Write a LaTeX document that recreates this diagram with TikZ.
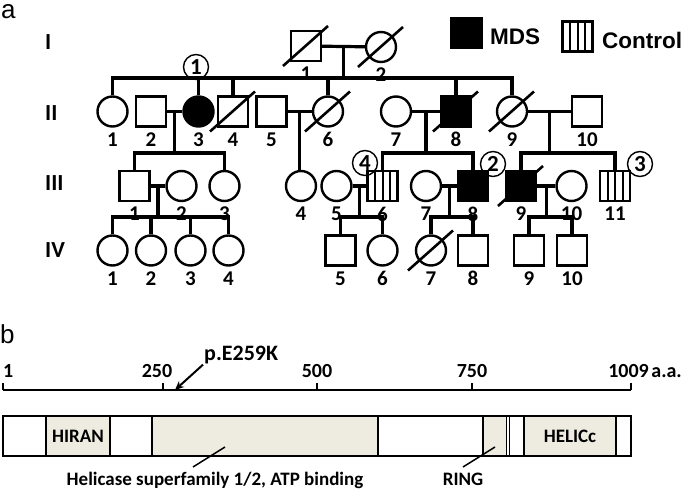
\documentclass[tikz,border=0pt]{standalone}
\usepackage{fontspec}
\usepackage{tikz}
\newfontfamily\calibri{Carlito}
\newfontfamily\arial{Liberation Sans}
\definecolor{domainbeige}{RGB}{238,236,225}
\usetikzlibrary{calc,arrows.meta}

\begin{document}
\begin{tikzpicture}[
    x=1pt, y=-1pt,
    male/.style={rectangle, draw=black, line width=2.4pt, fill=white, minimum size=30pt, inner sep=0pt},
    female/.style={circle, draw=black, line width=2.4pt, fill=white, minimum size=30pt, inner sep=0pt},
    affected/.style={fill=black},
    control/.style={male, path picture={
        \foreach \k in {-1,0,1}
            \draw[line width=2pt] ([xshift=\k*7.5pt]path picture bounding box.north) -- ([xshift=\k*7.5pt]path picture bounding box.south);}},
    every label/.style={font=\calibri\bfseries\fontsize{21}{22}\selectfont, inner sep=2pt},
    label distance=2.5pt,
    link/.style={line width=3.2pt},
    deceased/.style={line width=2.6pt},
    proband/.style={circle, draw=black, line width=1.4pt, minimum size=25pt, inner sep=0pt, font=\calibri\bfseries\fontsize{23}{24}\selectfont},
    gen/.style={anchor=west, inner sep=0pt, font=\calibri\bfseries\fontsize{23}{24}\selectfont},
    legendtext/.style={anchor=west, inner sep=0pt, font=\arial\bfseries\fontsize{22.5}{24}\selectfont},
    panel/.style={anchor=base west, inner sep=0pt, font=\arial\fontsize{26}{28}\selectfont},
    ticklabel/.style={inner sep=1pt, font=\calibri\bfseries\fontsize{20}{22}\selectfont},
    domainlabel/.style={inner sep=0pt, font=\calibri\bfseries\fontsize{19}{20}\selectfont},
    segment/.style={draw=black, line width=1.6pt},
    axis/.style={line width=1.5pt},
    arrow/.style={-{Stealth[length=9pt, width=8pt]}, line width=2pt}
]
\useasboundingbox (0,0) rectangle (685,489);

% Panel a
\node[panel] (pa) at (1,19) {a};

% Generation labels
\node[gen] (genI) at (45,42) {I};
\node[gen] (genII) at (45,113) {II};
\node[gen] (genIII) at (45,183) {III};
\node[gen] (genIV) at (45,250) {IV};

% Legend
\node[male, affected] (legmds) at (466.5,33) {};
\node[legendtext] (mdstext) at (490,37) {MDS};
\node[control] (legctrl) at (577.5,36.5) {};
\node[legendtext] (ctrltext) at (602,40) {Control};

% Sibship levels
\coordinate (sibII) at (0,78);
\coordinate (sibIII) at (0,153);
\coordinate (sibIV) at (0,217);

% Generation I
\node[male, label=below:1] (i1) at (306,46) {};
\node[female, label=below:2] (i2) at (381,47) {};

% Generation II
\node[female, label=below:1] (ii1) at (112.5,111.5) {};
\node[male, label=below:2] (ii2) at (151,111.5) {};
\node[female, affected, label=below:3] (ii3) at (198.5,111.5) {};
\node[male, label=below:4] (ii4) at (233,111.5) {};
\node[male, label=below:5] (ii5) at (271.5,111.5) {};
\node[female, label=below:6] (ii6) at (328,111.5) {};
\node[female, label=below:7] (ii7) at (396,111.5) {};
\node[male, affected, label=below:8] (ii8) at (456,111.5) {};
\node[female, label=below:9] (ii9) at (512,111.5) {};
\node[male, label=below:10] (ii10) at (587,111.5) {};

% Generation III
\node[male, label=below:1] (iii1) at (134.5,186) {};
\node[female, label=below:2] (iii2) at (181.5,186) {};
\node[female, label=below:3] (iii3) at (224.5,186) {};
\node[female, label=below:4] (iii4) at (301,186) {};
\node[female, label=below:5] (iii5) at (336.5,186) {};
\node[control, label=below:6] (iii6) at (382.5,186) {};
\node[female, label=below:7] (iii7) at (426,186) {};
\node[male, affected, label=below:8] (iii8) at (473,186) {};
\node[male, affected, label=below:9] (iii9) at (521,186) {};
\node[female, label=below:10] (iii10) at (571.5,186) {};
\node[control, label=below:11] (iii11) at (615,186) {};

% Generation IV
\node[female, label=below:1] (iv1) at (112.5,250.5) {};
\node[female, label=below:2] (iv2) at (151,250.5) {};
\node[female, label=below:3] (iv3) at (190.5,250.5) {};
\node[female, label=below:4] (iv4) at (228.5,250.5) {};
\node[male, label=below:5] (iv5) at (340.5,250.5) {};
\node[female, label=below:6] (iv6) at (382.5,250.5) {};
\node[female, label=below:7] (iv7) at (431,250.5) {};
\node[male, label=below:8] (iv8) at (473,250.5) {};
\node[male, label=below:9] (iv9) at (529,250.5) {};
\node[male, label=below:10] (iv10) at (572,250.5) {};

% Couples
\draw[link] (i1) -- (i2);
\draw[link] (ii2) -- (ii3);
\draw[link] (ii5) -- (ii6);
\draw[link] (ii7) -- (ii8);
\draw[link] (ii9) -- (ii10);
\draw[link] (iii1) -- (iii2);
\draw[link] (iii5) -- (iii6);
\draw[link] (iii7) -- (iii8);
\draw[link] (iii9) -- (iii10);

\coordinate (ci) at ($(i1)!0.5!(i2)$);
\coordinate (c23) at ($(ii2)!0.5!(ii3)$);
\coordinate (c56) at ($(ii5)!0.5!(ii6)$);
\coordinate (c78) at ($(ii7)!0.5!(ii8)$);
\coordinate (c910) at ($(ii9)!0.5!(ii10)$);
\coordinate (d12) at ($(iii1)!0.5!(iii2)$);
\coordinate (d56) at ($(iii5)!0.5!(iii6)$);
\coordinate (d78) at ($(iii7)!0.5!(iii8)$);
\coordinate (d910) at ($(iii9)!0.5!(iii10)$);

% Sibships, generation II
\draw[link] (ci) -- (ci |- sibII);
\draw[link] (ii1.north) |- (ii9.north |- sibII) -- (ii9.north);
\foreach \c in {ii3,ii4,ii6,ii8}
    \draw[link] (\c.north) -- (\c.north |- sibII);

% Sibships, generation III
\draw[link] (c23) -- (c23 |- sibIII);
\draw[link] (iii1.north) |- (iii3.north |- sibIII) -- (iii3.north);
\draw[link] (c56) -- (c56 |- iii4.north);
\draw[link] (c78) -- (c78 |- sibIII);
\draw[link] (iii6.north) |- (iii8.north |- sibIII) -- (iii8.north);
\draw[link] (c910) -- (c910 |- sibIII);
\draw[link] (iii9.north) |- (iii11.north |- sibIII) -- (iii11.north);

% Sibships, generation IV
\draw[link] (d12) -- (d12 |- sibIV);
\draw[link] (iv1.north) |- (iv4.north |- sibIV) -- (iv4.north);
\foreach \c in {iv2,iv3}
    \draw[link] (\c.north) -- (\c.north |- sibIV);
\draw[link] (d56) -- (d56 |- sibIV);
\draw[link] (iv5.north) |- (iv6.north |- sibIV) -- (iv6.north);
\draw[link] (d78) -- (d78 |- sibIV);
\draw[link] (iv7.north) |- (iv8.north |- sibIV) -- (iv8.north);
\draw[link] (d910) -- (d910 |- sibIV);
\draw[link] (iv9.north) |- (iv10.north |- sibIV) -- (iv10.north);

% Deceased
\foreach \n in {i1,i2,ii4,ii6,ii8,ii9,iii9,iv7}
    \draw[deceased] ($(\n)+(-23,20)$) -- ($(\n)+(22,-20)$);

% Probands
\node[proband] (p1) at (196,67) {1};
\node[proband] (p2) at (493,164) {2};
\node[proband] (p3) at (640,164) {3};
\node[proband] (p4) at (365,163) {4};

% Panel b
\node[panel] (pb) at (0,343) {b};

% Scale
\draw[axis] (3,390) -- (631,390);
\foreach \x in {3,163,317,472,631}
    \draw[axis] (\x,390) -- (\x,383);
\node[ticklabel, anchor=base west] (t1) at (2,377) {1};
\node[ticklabel, anchor=base] (t250) at (157,377) {250};
\node[ticklabel, anchor=base] (t500) at (317,377) {500};
\node[ticklabel, anchor=base] (t750) at (472,377) {750};
\node[ticklabel, anchor=base east] (t1009) at (650,377) {1009};
\node[ticklabel, anchor=base east] (aa) at (683,377) {a.a.};

% Mutation
\coordinate (aa259) at (175,390);
\node[ticklabel, anchor=base west, font=\calibri\bfseries\fontsize{22}{24}\selectfont] (mut) at (203,360) {p.E259K};
\draw[arrow] (mut.south west) -- (aa259);

% Protein domains
\foreach \a/\b/\f in {3/46/white, 46/110/domainbeige, 110/152/white, 152/378/domainbeige,
    378/483/white, 483/506.5/domainbeige, 506.5/509.5/white, 509.5/524/white,
    524/616/domainbeige, 616/631/white}
    \draw[segment, fill=\f] (\a,416) rectangle (\b,456);

\node[domainlabel] (hiran) at (78,436) {HIRAN};
\node[domainlabel] (helicc) at (570,436) {HELICc};
\node[domainlabel, anchor=base] (helicase) at (215,485) {Helicase superfamily 1/2, ATP binding};
\node[domainlabel, anchor=base] (ring) at (463,485) {RING};

\coordinate (helfoot) at (193,467);
\coordinate (heltip) at (225,447);
\coordinate (ringfoot) at (463,467);
\coordinate (ringtip) at (495,447);
\draw[axis] (helfoot) -- (heltip);
\draw[axis] (ringfoot) -- (ringtip);

\end{tikzpicture}
\end{document}
